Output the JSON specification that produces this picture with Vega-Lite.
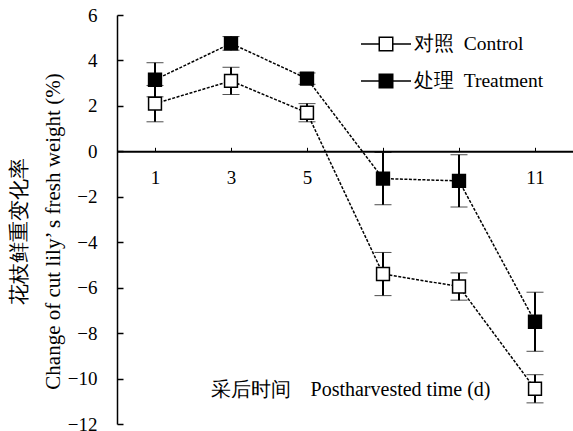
{
  "$schema": "https://vega.github.io/schema/vega-lite/v6.json",
  "width": 456,
  "height": 409,
  "autosize": {"type": "none"},
  "padding": {"left": 117, "top": 15, "right": 0, "bottom": 7},
  "background": "white",
  "config": {
    "view": {"stroke": null},
    "font": "Liberation Serif",
    "axisY": {"titleLineHeight": 34}
  },
  "data": {
    "values": [
      {"day": 1, "value": 2.1, "err": 0.8, "series": "对照\u00a0\u00a0Control"},
      {"day": 3, "value": 3.1, "err": 0.6, "series": "对照\u00a0\u00a0Control"},
      {"day": 5, "value": 1.7, "err": 0.4, "series": "对照\u00a0\u00a0Control"},
      {"day": 7, "value": -5.4, "err": 0.95, "series": "对照\u00a0\u00a0Control"},
      {"day": 9, "value": -5.95, "err": 0.6, "series": "对照\u00a0\u00a0Control"},
      {"day": 11, "value": -10.45, "err": 0.62, "series": "对照\u00a0\u00a0Control"},
      {"day": 1, "value": 3.15, "err": 0.75, "series": "处理\u00a0\u00a0Treatment"},
      {"day": 3, "value": 4.75, "err": 0.3, "series": "处理\u00a0\u00a0Treatment"},
      {"day": 5, "value": 3.2, "err": 0.25, "series": "处理\u00a0\u00a0Treatment"},
      {"day": 7, "value": -1.2, "err": 1.15, "series": "处理\u00a0\u00a0Treatment"},
      {"day": 9, "value": -1.3, "err": 1.15, "series": "处理\u00a0\u00a0Treatment"},
      {"day": 11, "value": -7.5, "err": 1.3, "series": "处理\u00a0\u00a0Treatment"}
    ]
  },
  "encoding": {
    "x": {
      "field": "day",
      "type": "quantitative",
      "scale": {"domain": [0, 12], "nice": false, "zero": false},
      "axis": {
        "title": "采后时间\u00a0\u00a0\u00a0\u00a0Postharvested time (d)",
        "values": [1, 3, 5, 7, 9, 11],
        "labelExpr": "datum.value == 7 || datum.value == 9 ? '' : datum.label",
        "offset": -272.7,
        "grid": false,
        "domainColor": "black",
        "domainWidth": 2,
        "tickColor": "black",
        "tickSize": -4,
        "tickWidth": 1,
        "labelFont": "Liberation Serif",
        "labelFontSize": 19,
        "labelColor": "black",
        "labelPadding": 21,
        "labelFlush": false,
        "titleFont": "Liberation Serif",
        "titleFontSize": 20,
        "titleFontWeight": "normal",
        "titleColor": "black",
        "titleX": 233,
        "titleY": 238,
        "titleAlign": "center",
        "titleBaseline": "middle"
      }
    },
    "y": {
      "field": "value",
      "type": "quantitative",
      "scale": {"domain": [-12, 6], "nice": false, "zero": false},
      "axis": {
        "title": ["花枝鲜重变化率\u00a0\u00a0\u00a0\u00a0", "Change of cut lily’ s fresh weight (%)"],
        "values": [-12, -10, -8, -6, -4, -2, 0, 2, 4, 6],
        "grid": false,
        "domainColor": "black",
        "domainWidth": 1.5,
        "tickColor": "black",
        "tickSize": -6,
        "tickWidth": 1.5,
        "labelFont": "Liberation Serif",
        "labelFontSize": 19,
        "labelColor": "black",
        "labelPadding": 26,
        "labelFlush": false,
        "titleFont": "Liberation Serif",
        "titleFontSize": 21,
        "titleFontWeight": "normal",
        "titleColor": "black",
        "titleLineHeight": 34,
        "titleAngle": -90,
        "titleX": -98,
        "titleY": 216,
        "titleAlign": "center",
        "titleBaseline": "middle"
      }
    }
  },
  "layer": [
    {
      "mark": {"type": "line", "stroke": "black", "strokeWidth": 1.5, "strokeDash": [3, 1.5]},
      "encoding": {"detail": {"field": "series", "type": "nominal"}}
    },
    {
      "mark": {
        "type": "errorbar",
        "color": "black",
        "rule": {"strokeWidth": 2, "color": "black"},
        "ticks": {"size": 17, "strokeWidth": 2, "color": "black"}
      },
      "encoding": {
        "yError": {"field": "err"},
        "detail": {"field": "series", "type": "nominal"}
      }
    },
    {
      "mark": {"type": "point", "shape": "square", "size": 165, "filled": true, "stroke": "black", "strokeWidth": 1.5, "opacity": 1},
      "encoding": {
        "fill": {
          "field": "series",
          "type": "nominal",
          "sort": ["对照\u00a0\u00a0Control", "处理\u00a0\u00a0Treatment"],
          "scale": {"domain": ["对照\u00a0\u00a0Control", "处理\u00a0\u00a0Treatment"], "range": ["white", "black"]},
          "legend": {
            "title": null,
            "orient": "none",
            "legendX": 243,
            "legendY": 3,
            "symbolType": "M-1,0H-0.27M0.27,0H1M-0.27,-0.27H0.27V0.27H-0.27Z",
            "symbolSize": 2500,
            "symbolStrokeColor": "black",
            "symbolStrokeWidth": 1.5,
            "symbolOpacity": 1,
            "labelFont": "Liberation Serif",
            "labelFontSize": 19.5,
            "labelColor": "black",
            "labelOffset": 2,
            "labelLimit": 300,
            "rowPadding": 1
          }
        }
      }
    }
  ]
}
